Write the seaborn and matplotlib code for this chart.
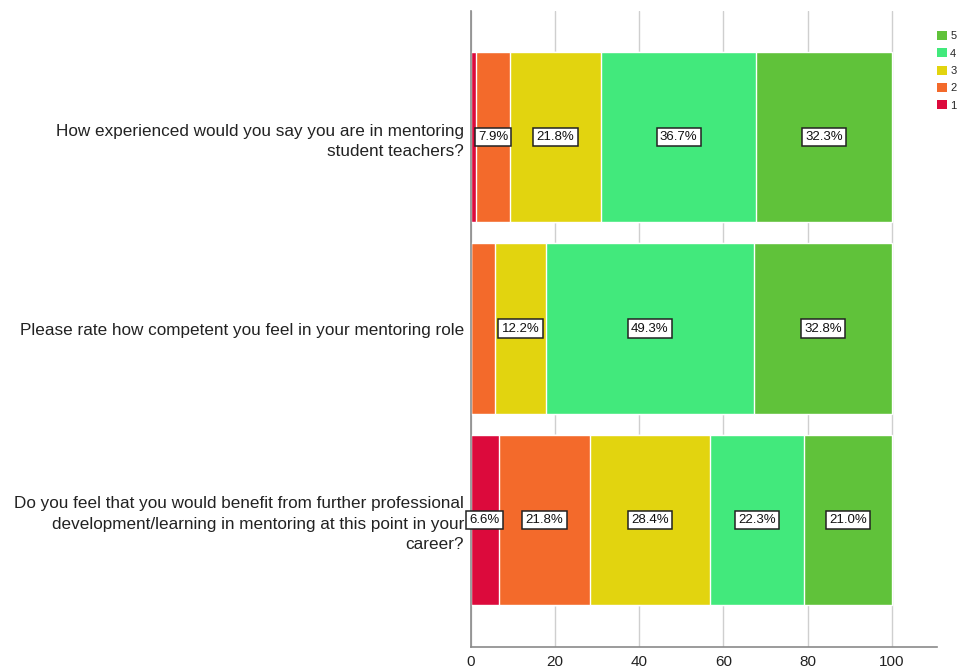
import matplotlib
matplotlib.use("Agg")
import matplotlib.pyplot as plt
import seaborn as sns
import pandas as pd
import numpy as np
from matplotlib.patches import Patch

questions = [
    "How experienced would you say you are in mentoring\nstudent teachers?",
    "Please rate how competent you feel in your mentoring role",
    "Do you feel that you would benefit from further professional\ndevelopment/learning in mentoring at this point in your\ncareer?",
]
levels = ["1", "2", "3", "4", "5"]
level1 = [1.3, 0.0, 6.6]
level2 = [7.9, 5.7, 21.8]
level3 = [21.8, 12.2, 28.4]
level4 = [36.7, 49.3, 22.3]
level5 = [32.3, 32.8, 21.0]
colors = ["#DC0A3C", "#F36A2B", "#E2D40F", "#42E97C", "#60C23A"]
label_min = 6.0

sns.set_theme(style="white")
plt.rcParams["font.family"] = ["Liberation Sans", "DejaVu Sans"]

series = [level1, level2, level3, level4, level5]
df = pd.DataFrame({"question": questions})
cum = np.zeros(len(questions))
lefts = []
for lv, vals in zip(levels, series):
    lefts.append(cum.copy())
    cum = cum + np.array(vals)
    df["cum" + lv] = cum.copy()

fig = plt.figure(figsize=(9.57, 6.72), dpi=100)
ax = fig.add_axes([0.492, 0.0372, 0.487, 0.9464])

for i in range(len(levels) - 1, -1, -1):
    sns.barplot(data=df, y="question", x="cum" + levels[i], orient="h",
                color=colors[i], saturation=1, width=0.89, ax=ax, zorder=2)

for i, vals in enumerate(series):
    for j, v in enumerate(vals):
        if v >= label_min:
            ax.text(lefts[i][j] + v / 2, j, f"{v:.1f}%", ha="center", va="center",
                    fontsize=9.5, color="#111111", zorder=5,
                    bbox=dict(boxstyle="square,pad=0.25", fc="white", ec="#222222", lw=1.1))

ax.set_xlim(0, 110.7)
ax.set_ylim(2.663, -0.658)
ax.set_xticks([0, 20, 40, 60, 80, 100])
ax.set_yticks(range(len(questions)))
ax.set_yticklabels(questions, linespacing=1.45, multialignment="right")
ax.set_xlabel("")
ax.set_ylabel("")
ax.xaxis.grid(True, color="#CFCFCF", lw=1.0, zorder=0)
ax.set_axisbelow(True)
ax.tick_params(axis="x", length=0, labelsize=11, pad=6, colors="#222222")
ax.tick_params(axis="y", length=0, labelsize=12.3, pad=5, colors="#222222")
for s in ["top", "right"]:
    ax.spines[s].set_visible(False)
ax.spines["left"].set_color("#8A8A8A")
ax.spines["bottom"].set_color("#8A8A8A")
ax.spines["left"].set_linewidth(1.2)
ax.spines["bottom"].set_linewidth(1.2)

handles = [Patch(facecolor=colors[i], edgecolor="none", label=levels[i]) for i in range(4, -1, -1)]
leg = fig.legend(handles=handles, loc="upper left", bbox_to_anchor=(0.979, 0.954),
                 frameon=False, fontsize=8, handlelength=0.9, handleheight=0.9,
                 handletextpad=0.3, labelspacing=0.62, borderpad=0, borderaxespad=0)

fig.savefig("out.png", dpi=100)
